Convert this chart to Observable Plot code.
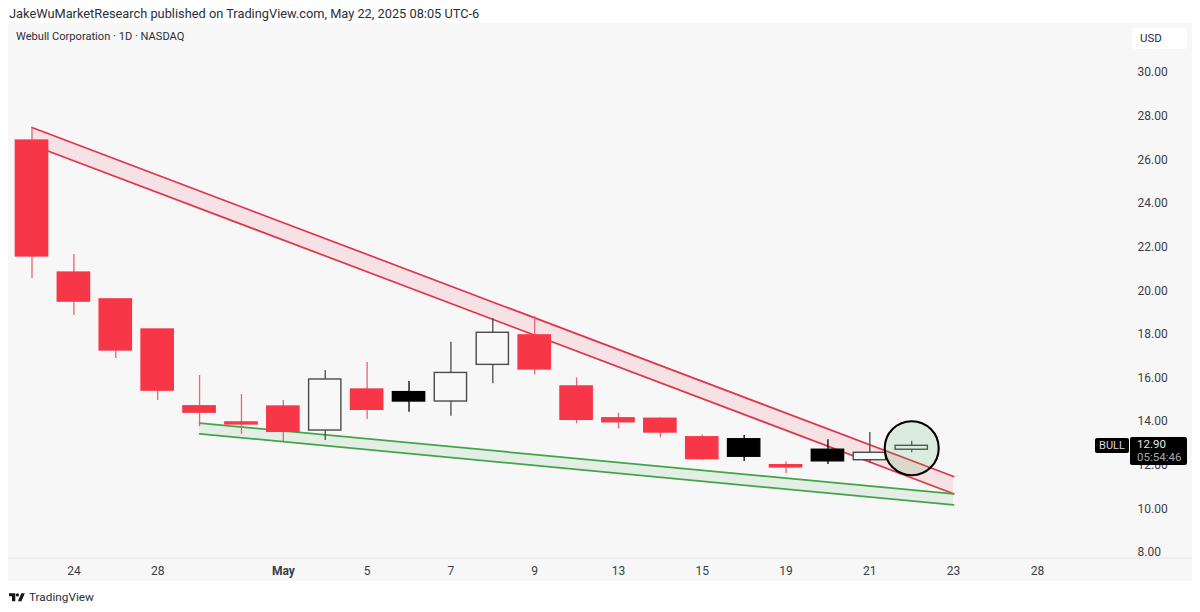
<!DOCTYPE html>
<html>
<head>
<meta charset="utf-8">
<script src="https://cdn.jsdelivr.net/npm/d3@7"></script>
<script src="https://cdn.jsdelivr.net/npm/@observablehq/plot@0.6"></script>
<style>
  html, body { margin: 0; padding: 0; background: #fff; overflow: hidden; }
  body { width: 1200px; height: 612px; position: relative; font-family: Roboto, "Noto Sans", sans-serif; color: #2a2e39; }
  #top { height: 23px; line-height: 28px; padding-left: 9px; font-size: 12.8px; white-space: nowrap; }
  #chart { position: absolute; left: 8px; top: 23px; width: 1184px; height: 558px; background: #f7f7f8; }
  #chart svg { display: block; background: transparent; }
  #foot { position: absolute; left: 9px; top: 589px; font-size: 11.8px; line-height: 16px; display: flex; align-items: center; gap: 4px; }
  .tag { position: absolute; white-space: nowrap; }
  #name { left: 16px; top: 30px; font-size: 11.1px; }
  #usd { left: 1132px; top: 28px; width: 55px; height: 21px; line-height: 21px; background: #fff; border-radius: 3px; text-indent: 8px; font-size: 11.5px; }
  #bull { left: 1095px; top: 438px; width: 34px; height: 15px; line-height: 15px; background: #000; color: #d8d8d8; text-align: center; border-radius: 2px; font-size: 11px; }
  #price { left: 1130px; top: 437px; width: 57px; height: 28px; background: #000; color: #e8e8e8; border-radius: 2px; font-size: 11.5px; line-height: 13px; padding-top: 1px; box-sizing: border-box; text-indent: 7px; }
  #price span { color: #a8a8a8; display: block; }
</style>
</head>
<body>
<div id="top">JakeWuMarketResearch published on TradingView.com, May 22, 2025 08:05 UTC-6</div>
<div id="chart"></div>
<div class="tag" id="name">Webull Corporation · 1D · NASDAQ</div>
<div class="tag" id="usd">USD</div>
<div class="tag" id="bull">BULL</div>
<div class="tag" id="price"></div>
<div id="foot">
  <svg width="16" height="9" viewBox="0 0 19 10"><path d="M0 0h7.5v9.5H3.6V3.6H0z" fill="#131722"/><circle cx="10" cy="2" r="1.9" fill="#131722"/><path d="M14.6 0h4.2l-4 9.5h-4.2z" fill="#131722"/></svg>
  <span>TradingView</span>
</div>

<script>
// candles, index = trading day on the chart
const tops    = [26.88,20.83,19.60,18.22,14.70,13.96,14.69,15.93,15.47,15.35,16.23,18.07,17.95,15.61,14.15,14.13,13.28,13.19,12.00,12.71,12.57,12.89]
const bottoms = [21.57,19.50,17.26,15.42,14.41,13.87,13.53,13.59,14.54,14.92,14.92,16.60,16.39,14.08,13.97,13.50,12.28,12.39,11.90,12.18,12.23,12.71]
const highs   = [27.48,21.66,19.60,18.22,16.11,15.24,14.97,16.34,16.71,15.84,17.64,18.72,18.82,16.00,14.38,14.17,13.39,13.36,12.16,13.17,13.50,13.10]
const lows    = [20.56,18.86,16.89,14.97,13.77,13.41,13.09,13.13,14.10,14.43,14.25,15.73,16.14,13.90,13.67,13.26,12.22,12.17,11.62,12.03,12.11,12.57]
const kinds   = ["r","r","r","r","r","r","r","w","r","b","w","w","r","r","r","r","r","b","r","b","w","w"]

// trend channels: [first index, last index]
const redX = [0, 22]
const redUpper = [27.48, 11.48]
const redLower = [26.68, 10.69]
const greenX = [4, 22]
const greenUpper = [13.93, 10.69]
const greenLower = [13.44, 10.18]

const priceTicks = [8,10,12,14,16,18,20,22,24,26,28,30]
const dayTicks = [1,3,8,10,12,14,16,18,20,22,24]
const dayLabels = ["24","28","5","7","9","13","15","19","21","23","28"]
const monthTick = [6]
const monthLabel = "May"
const lastPrice = 12.90
const countdown = "05:54:46"
const circleAt = {x: 21, y: 12.78}

const bodyFill = {r: "#f73748", w: "#f8f8f9", b: "#000000"}
const bodyStroke = {r: "#f73748", w: "#4a4a4a", b: "#000000"}
const wickColor = {r: "#ec6470", w: "#4a4a4a", b: "#000000"}

const candles = tops.map((t, i) => ({i, top: t, bottom: bottoms[i], high: highs[i], low: lows[i], kind: kinds[i]}))
const redBand = redX.map((x, k) => ({x, y1: redLower[k], y2: redUpper[k]}))
const greenBand = greenX.map((x, k) => ({x, y1: greenLower[k], y2: greenUpper[k]}))

const halfBody = 0.385

const chart = Plot.plot({
  width: 1184,
  height: 558,
  marginLeft: 0,
  marginRight: 0,
  marginTop: 0,
  marginBottom: 24,
  style: {fontFamily: "Roboto, 'Noto Sans', sans-serif", fontSize: "12px", color: "#3a3d45", background: "transparent"},
  x: {type: "linear", domain: [0, 24], range: [23.5, 1028.9]},
  y: {type: "linear", domain: [8, 30], range: [529, 49]},
  marks: [
    Plot.axisY(priceTicks, {anchor: "right", tickSize: 0, tickPadding: 0, dx: -55, textAnchor: "start", tickFormat: d3.format(".2f"), label: null}),
    Plot.axisX(dayTicks, {tickSize: 0, tickPadding: 9, tickFormat: d => dayLabels[dayTicks.indexOf(d)], label: null}),
    Plot.axisX(monthTick, {tickSize: 0, tickPadding: 9, tickFormat: () => monthLabel, fontWeight: 700, label: null}),
    Plot.ruleY([8], {y: () => 8, dy: 5.5, stroke: "#e2e3e8", x1: -1, x2: 30, clip: false}),

    /* bandas */
    Plot.areaY(redBand, {x: "x", y1: "y1", y2: "y2", fill: "#f23645", fillOpacity: 0.11}),
    Plot.line(redBand, {x: "x", y: "y2", stroke: "#e0364a", strokeWidth: 1.7}),
    Plot.line(redBand, {x: "x", y: "y1", stroke: "#e0364a", strokeWidth: 1.7}),
    Plot.areaY(greenBand, {x: "x", y1: "y1", y2: "y2", fill: "#4caf50", fillOpacity: 0.11}),
    Plot.line(greenBand, {x: "x", y: "y2", stroke: "#45a349", strokeWidth: 1.7}),
    Plot.line(greenBand, {x: "x", y: "y1", stroke: "#45a349", strokeWidth: 1.7}),

    /* velas */
    Plot.ruleX(candles, {x: "i", y1: "low", y2: "high", stroke: d => wickColor[d.kind], strokeWidth: 1.3}),
    Plot.rect(candles, {
      x1: d => d.i - halfBody,
      x2: d => d.i + halfBody,
      y1: "bottom",
      y2: "top",
      fill: d => bodyFill[d.kind],
      stroke: d => bodyStroke[d.kind],
      strokeWidth: 1.4
    }),

    /* circulo sobre la ultima vela */
    Plot.dot([circleAt], {x: "x", y: "y", r: 27, fill: "#4caf50", fillOpacity: 0.16, stroke: "#000", strokeWidth: 2.1})
  ]
})

document.getElementById("chart").append(chart)
document.getElementById("price").innerHTML = `${lastPrice.toFixed(2)}<span>${countdown}</span>`
</script>
</body>
</html>
